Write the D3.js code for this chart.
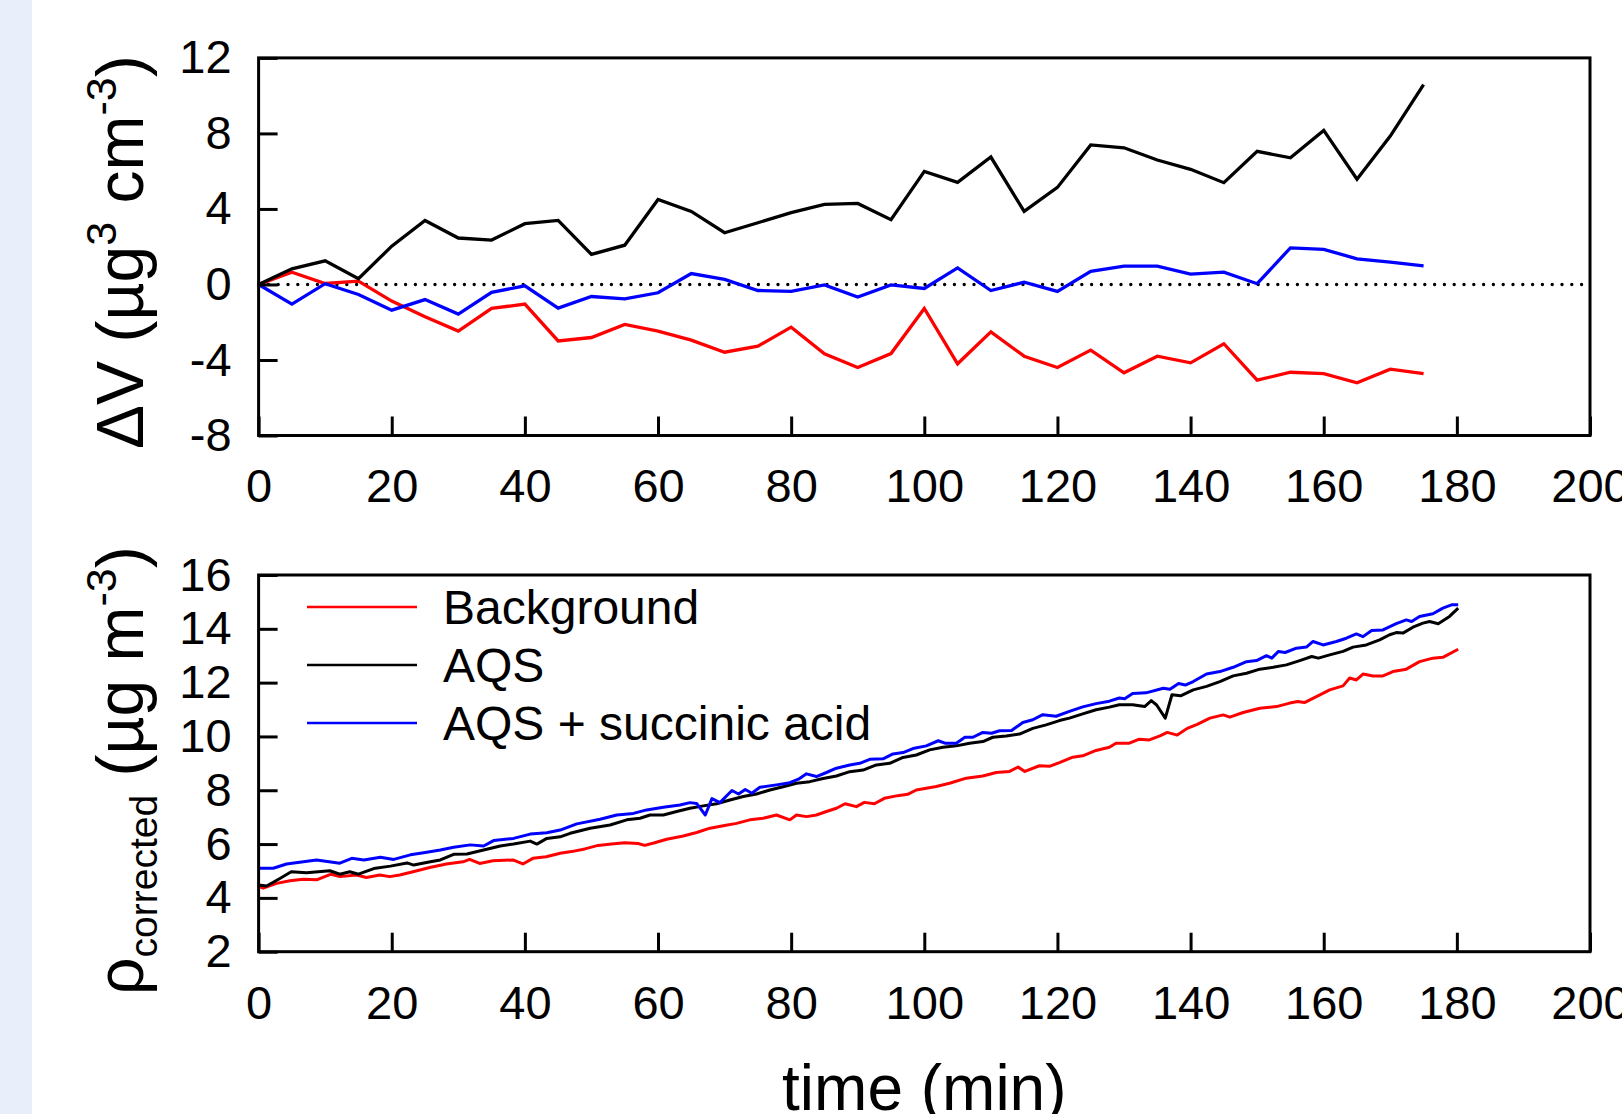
<!DOCTYPE html>
<html>
<head>
<meta charset="utf-8">
<script src="https://cdn.jsdelivr.net/npm/d3@7"></script>
<style>
  html, body { margin: 0; padding: 0; background: #ffffff; }
  svg { display: block; font-family: "Liberation Sans", Arial, sans-serif; }
</style>
</head>
<body>
<script>
// ---------------- DATA ----------------
// Top panel: time (min) and ΔV (µg^3 cm^-3)
const timesTop = [0,5,10,15,20,25,30,35,40,45,50,55,60,65,70,75,80,85,90,95,100,105,110,115,120,125,130,135,140,145,150,155,160,165,170,175];
const dvBackground = [0,0.65,0.05,0.18,-0.88,-1.71,-2.47,-1.27,-1.04,-2.99,-2.81,-2.12,-2.47,-2.95,-3.59,-3.27,-2.26,-3.67,-4.4,-3.66,-1.27,-4.2,-2.51,-3.8,-4.4,-3.48,-4.68,-3.8,-4.15,-3.14,-5.07,-4.65,-4.72,-5.21,-4.49,-4.72];
const dvAQS = [0,0.83,1.25,0.3,2.03,3.39,2.46,2.35,3.22,3.39,1.59,2.08,4.5,3.87,2.74,3.27,3.8,4.24,4.29,3.43,5.99,5.41,6.75,3.87,5.14,7.39,7.24,6.59,6.1,5.39,7.05,6.71,8.16,5.57,7.86,10.58];
const dvAQSSA = [0,-1.04,0.04,-0.53,-1.36,-0.8,-1.57,-0.42,-0.07,-1.25,-0.64,-0.76,-0.44,0.58,0.27,-0.32,-0.37,-0.02,-0.67,-0.02,-0.21,0.88,-0.32,0.12,-0.37,0.69,0.97,0.97,0.55,0.65,0.04,1.94,1.86,1.36,1.18,0.99];

// Bottom panel: [time (min), rho_corrected (µg m^-3)]
const rhoBackground = [[0,4.42],[0.7,4.36],[2.7,4.54],[4.7,4.64],[6.7,4.69],[8.7,4.67],[10.9,4.88],[12.2,4.79],[14.7,4.85],[16.2,4.76],[18.2,4.85],[19.7,4.79],[21.2,4.85],[23.2,4.97],[25.7,5.13],[28.2,5.26],[30.7,5.34],[31.7,5.43],[33.2,5.28],[35.2,5.38],[38.2,5.41],[39.7,5.26],[41.2,5.47],[43.2,5.53],[45.3,5.66],[47,5.72],[49,5.82],[51,5.95],[53,6.0],[55,6.05],[57,6.02],[58,5.95],[59.5,6.05],[61.3,6.18],[63.8,6.30],[65.8,6.43],[67.8,6.59],[69.8,6.68],[71.8,6.77],[73.8,6.90],[75.8,6.96],[77.8,7.08],[79.8,6.90],[80.8,7.08],[82.3,7.02],[83.8,7.08],[85.3,7.21],[86.8,7.33],[88.1,7.50],[89.8,7.39],[91,7.55],[92.5,7.5],[94,7.7],[96,7.8],[97.5,7.85],[98.8,8.01],[101.8,8.14],[103.8,8.26],[106.3,8.45],[108.8,8.53],[110.8,8.66],[112.8,8.70],[114.1,8.86],[115.1,8.70],[117.3,8.91],[118.8,8.89],[120.3,9.03],[122.3,9.23],[123.8,9.28],[125.8,9.48],[127.8,9.60],[128.8,9.75],[130.8,9.75],[132.3,9.90],[133.8,9.87],[135.4,10.02],[136.5,10.15],[138,10.05],[139.5,10.3],[141,10.45],[142.9,10.68],[144.9,10.80],[145.9,10.72],[147.9,10.89],[150.4,11.05],[152.9,11.11],[154.9,11.24],[156.1,11.30],[157.1,11.26],[158.9,11.48],[160.9,11.73],[162.9,11.88],[163.9,12.17],[164.9,12.10],[165.9,12.32],[167.4,12.25],[168.9,12.25],[170.4,12.41],[172.4,12.50],[174.4,12.78],[176.4,12.91],[177.9,12.94],[180.2,13.24]];
const rhoAQS = [[0,4.48],[1.2,4.44],[3.2,4.72],[4.9,4.97],[7.2,4.93],[10.7,5.01],[12.2,4.88],[13.7,4.97],[15,4.88],[17.3,5.09],[19.8,5.18],[22.3,5.30],[23.3,5.22],[25.8,5.34],[27.3,5.41],[29.3,5.62],[31.3,5.63],[33.8,5.78],[36.3,5.93],[38.3,6.0],[40.8,6.11],[41.8,6.0],[43.3,6.21],[45.3,6.27],[46.8,6.40],[49.8,6.59],[52.8,6.71],[55.3,6.90],[57.3,6.96],[58.8,7.08],[60.8,7.08],[62.8,7.21],[64.8,7.33],[66.8,7.42],[68.8,7.50],[70.8,7.64],[72.8,7.77],[74.8,7.86],[76.8,8.01],[78.8,8.13],[80.8,8.26],[82.8,8.32],[84.8,8.44],[86.8,8.53],[88.8,8.69],[90.8,8.75],[92.8,8.94],[94.8,9.0],[96.8,9.22],[98.8,9.31],[100.8,9.50],[102.8,9.60],[104.8,9.65],[106.8,9.75],[108.8,9.81],[110.3,9.97],[112.3,10.02],[114.3,10.09],[116.3,10.30],[118.3,10.43],[120.3,10.59],[121.8,10.68],[123.8,10.84],[125.8,10.99],[127.8,11.09],[129.3,11.18],[131.3,11.18],[133.1,11.11],[134.1,11.33],[134.9,11.17],[136.2,10.68],[137.2,11.55],[138.5,11.51],[140.4,11.73],[142.4,11.86],[144.4,12.04],[146.4,12.25],[148.4,12.35],[150.4,12.50],[152.4,12.57],[154.4,12.66],[156.4,12.82],[158.2,12.97],[159.2,12.91],[160.9,13.03],[162.9,13.16],[164.4,13.32],[166.4,13.40],[168.4,13.59],[169.9,13.78],[170.9,13.86],[171.9,13.84],[173.4,14.06],[174.9,14.21],[175.9,14.27],[177.2,14.19],[178.9,14.46],[180.2,14.77]];
const rhoAQSSA = [[0,5.10],[2.2,5.10],[4.2,5.26],[8.7,5.41],[12.2,5.29],[14,5.47],[15.8,5.41],[18.3,5.51],[20.3,5.43],[22.8,5.60],[24.8,5.68],[27.3,5.78],[29.3,5.88],[31.8,5.97],[33.8,5.93],[35.3,6.13],[38.3,6.21],[40.8,6.37],[43.3,6.42],[45.3,6.52],[47.8,6.75],[51.3,6.92],[53.8,7.08],[56.3,7.14],[58.3,7.27],[60.8,7.37],[63.3,7.45],[64.8,7.54],[65.8,7.51],[67.1,7.08],[68.1,7.69],[69.3,7.54],[71.1,7.99],[72.1,7.86],[73.1,8.03],[74.1,7.89],[75.3,8.11],[77.8,8.20],[79.8,8.28],[81.1,8.41],[82.3,8.61],[83.8,8.51],[85.3,8.66],[86.8,8.82],[88.8,8.94],[90.3,9.0],[91.8,9.15],[93.8,9.17],[95.3,9.35],[96.8,9.40],[98.3,9.55],[100.3,9.65],[102.1,9.84],[103.1,9.75],[104.8,9.75],[106.1,9.97],[107.3,9.97],[108.8,10.15],[110.1,10.12],[111.3,10.21],[113.1,10.22],[114.8,10.52],[116.3,10.62],[117.8,10.81],[119.8,10.75],[121.8,10.93],[123.8,11.10],[125.8,11.22],[127.8,11.31],[129.3,11.43],[130.1,11.40],[131.3,11.60],[133.3,11.62],[135.9,11.79],[136.9,11.75],[138.2,11.97],[139.2,11.91],[140.4,12.04],[142.4,12.32],[144.4,12.41],[146.4,12.57],[148.4,12.78],[149.9,12.82],[151.4,13.0],[152.2,12.91],[153.2,13.16],[154.2,13.12],[155.9,13.28],[157.4,13.32],[158.4,13.53],[159.9,13.40],[161.9,13.53],[163.4,13.65],[164.9,13.81],[165.9,13.71],[167.2,13.94],[168.9,13.96],[170.9,14.19],[172.4,14.33],[173.2,14.27],[174.4,14.46],[176.4,14.56],[177.9,14.77],[179.2,14.89],[180.2,14.89]];

const xTicks = [0,20,40,60,80,100,120,140,160,180,200];
const yTicksTop = [-8,-4,0,4,8,12];
const yTicksBottom = [2,4,6,8,10,12,14,16];
const seriesNames = ["Background","AQS","AQS + succinic acid"];
const seriesColors = ["#ff0000","#000000","#0000ff"];

// ---------------- LAYOUT ----------------
const W = 1622, H = 1114;
const L = 258.6, R = 1590;
const topBox = {t: 57.9, b: 435.5};
const botBox = {t: 575, b: 951.7};

const svg = d3.select("body").append("svg").attr("width", W).attr("height", H);
svg.append("rect").attr("width", W).attr("height", H).attr("fill", "#ffffff");
svg.append("rect").attr("x", 0).attr("y", 0).attr("width", 32).attr("height", H).attr("fill", "#e8eefa");

const x = d3.scaleLinear().domain([0, 200]).range([L, R]);
const yTop = d3.scaleLinear().domain([-8, 12]).range([topBox.b, topBox.t]);
const yBot = d3.scaleLinear().domain([2, 16]).range([botBox.b, botBox.t]);
const fmt = d => String(d);

function drawAxes(yScale, box, yTicks, xPad) {
  const gx = svg.append("g").attr("transform", `translate(0,${box.b})`)
    .call(d3.axisBottom(x).tickValues(xTicks).tickSize(-19).tickPadding(xPad).tickFormat(fmt));
  const gy = svg.append("g").attr("transform", `translate(${L},0)`)
    .call(d3.axisLeft(yScale).tickValues(yTicks).tickSize(-19).tickPadding(27).tickFormat(fmt));
  [gx, gy].forEach(g => {
    g.select(".domain").remove();
    g.selectAll(".tick line").attr("stroke", "#000").attr("stroke-width", 3);
    g.selectAll(".tick text").attr("fill", "#000").style("font-size", "47px")
      .style("font-family", '"Liberation Sans", Arial, sans-serif');
  });
  svg.append("rect").attr("x", L).attr("y", box.t).attr("width", R - L).attr("height", box.b - box.t)
    .attr("fill", "none").attr("stroke", "#000").attr("stroke-width", 3);
}

// ---------- TOP PANEL ----------
svg.append("line").attr("x1", x(0)).attr("x2", x(200)).attr("y1", yTop(0)).attr("y2", yTop(0))
  .attr("stroke", "#000").attr("stroke-width", 3.4).attr("stroke-linecap", "round")
  .attr("stroke-dasharray", "0 9.8");

const lineTop = d3.line().x((d, i) => x(timesTop[i])).y(d => yTop(d));
[dvBackground, dvAQS, dvAQSSA].forEach((arr, k) => {
  svg.append("path").datum(arr).attr("d", lineTop).attr("fill", "none")
    .attr("stroke", seriesColors[k]).attr("stroke-width", 3.3).attr("stroke-linejoin", "miter");
});
drawAxes(yTop, topBox, yTicksTop, 33);

// ---------- BOTTOM PANEL ----------
const lineBot = d3.line().x(d => x(d[0])).y(d => yBot(d[1]));
[rhoBackground, rhoAQS, rhoAQSSA].forEach((arr, k) => {
  svg.append("path").datum(arr).attr("d", lineBot).attr("fill", "none")
    .attr("stroke", seriesColors[k]).attr("stroke-width", 3).attr("stroke-linejoin", "round");
});
drawAxes(yBot, botBox, yTicksBottom, 34);

// legend
const legendY = [607, 665, 723];
seriesNames.forEach((name, i) => {
  svg.append("line").attr("x1", 307).attr("x2", 417).attr("y1", legendY[i]).attr("y2", legendY[i])
    .attr("stroke", seriesColors[i]).attr("stroke-width", 2.4);
  svg.append("text").attr("x", 443).attr("y", legendY[i]).attr("dy", "0.35em")
    .style("font-size", "48px").attr("fill", "#000").text(name);
});

// x title
svg.append("text").attr("x", (L + R) / 2).attr("y", 1110).attr("text-anchor", "middle")
  .style("font-size", "64px").attr("fill", "#000").text("time (min)");

// y titles (rotated)
function yTitle(px, py, build) {
  const t = svg.append("text").attr("fill", "#000").style("font-size", "66px")
    .attr("transform", `translate(${px},${py}) rotate(-90)`);
  build(t);
}
yTitle(143, 449, t => {
  t.append("tspan").text("\u0394V (\u00b5g");
  t.append("tspan").attr("dy", -27).style("font-size", "43px").text("3");
  t.append("tspan").attr("dy", 27).text(" cm");
  t.append("tspan").attr("dy", -27).style("font-size", "43px").text("-3");
  t.append("tspan").attr("dy", 27).text(")");
});
yTitle(143, 995, t => {
  t.append("tspan").text("\u03c1");
  t.append("tspan").attr("dy", 14).style("font-size", "39px").text("corrected");
  t.append("tspan").attr("dy", -14).text(" (\u00b5g m");
  t.append("tspan").attr("dy", -27).style("font-size", "43px").text("-3");
  t.append("tspan").attr("dy", 27).text(")");
});
</script>
</body>
</html>
